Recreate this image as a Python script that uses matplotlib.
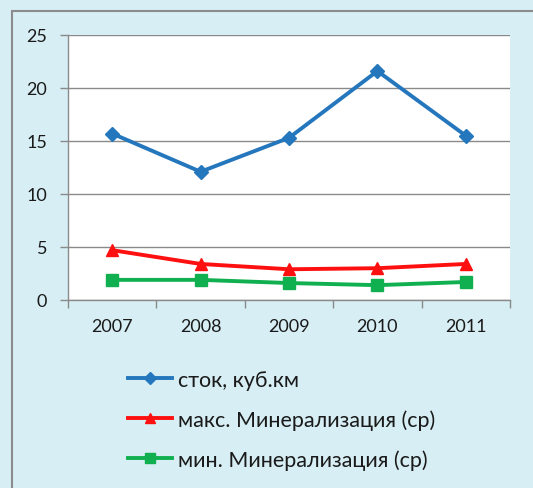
import matplotlib
matplotlib.use("Agg")
import matplotlib.pyplot as plt
from matplotlib.patches import Rectangle

plt.rcParams['font.family'] = ['Lato', 'DejaVu Sans']

years = ['2007', '2008', '2009', '2010', '2011']
stok = [15.7, 12.1, 15.3, 21.6, 15.5]
maks = [4.7, 3.4, 2.9, 3.0, 3.4]
mins = [1.9, 1.9, 1.6, 1.4, 1.7]
labels = ['сток, куб.км', 'макс. Минерализация (ср)', 'мин. Минерализация (ср)']
yticks = [0, 5, 10, 15, 20, 25]

W, H = 533, 489
fig = plt.figure(figsize=(W / 100, H / 100), dpi=100)
bg = '#d7eef4'
fig.patch.set_facecolor(bg)
fig.patches.append(Rectangle((12 / W, -0.1), 1.2, 1 - 12 / H + 0.1, transform=fig.transFigure,
                             fill=False, edgecolor='#8c8c8c', linewidth=1.5, zorder=0))

ax = fig.add_axes([68 / W, 1 - 301 / H, 442 / W, 265 / H])
ax.set_facecolor('white')
x = list(range(len(years)))
ax.plot(x, stok, color='#2577bd', lw=2.8, marker='D', ms=7, label=labels[0], zorder=3)
ax.plot(x, maks, color='#ff1010', lw=2.8, marker='^', ms=9, label=labels[1], zorder=3)
ax.plot(x, mins, color='#10b050', lw=2.8, marker='s', ms=8, label=labels[2], zorder=3)

ax.set_xlim(-0.5, 4.5)
ax.set_ylim(0, 25)
ax.set_yticks(yticks)
ax.set_yticklabels([str(t) for t in yticks])
ax.set_xticks(x)
ax.set_xticklabels(years)
ax.set_xticks([i - 0.5 for i in range(6)], minor=True)
ax.tick_params(axis='x', which='major', length=0, pad=13, labelsize=13, colors='#1a1a1a')
ax.tick_params(axis='x', which='minor', length=6, width=1, color='#8a8a8a', direction='out')
ax.tick_params(axis='y', length=6, width=1, color='#8a8a8a', pad=9, labelsize=13, colors='#1a1a1a')
ax.yaxis.grid(True, color='#8a8a8a', lw=1)
ax.set_axisbelow(True)
for s in ['top', 'right']:
    ax.spines[s].set_visible(False)
for s in ['left', 'bottom']:
    ax.spines[s].set_color('#8a8a8a')
    ax.spines[s].set_linewidth(1)

handles, labs = ax.get_legend_handles_labels()
leg = fig.legend(handles, labs, loc='upper left', bbox_to_anchor=(128 / W, 1 - 371 / H),
                 frameon=False, fontsize=15.5, handlelength=2.05, handletextpad=0.28,
                 labelspacing=0.9, borderpad=0, borderaxespad=0, markerscale=0.85)
for t in leg.get_texts():
    t.set_color('#1a1a1a')

fig.savefig('out.png', dpi=100, facecolor=bg)
